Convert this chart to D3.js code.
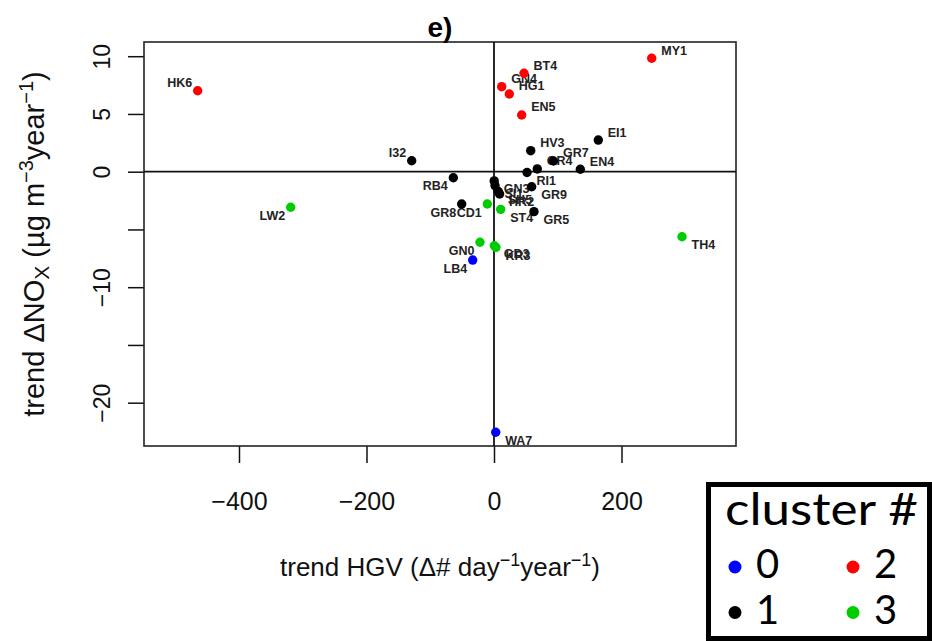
<!DOCTYPE html>
<html>
<head>
<meta charset="utf-8">
<script src="https://cdn.jsdelivr.net/npm/d3@7"></script>
<style>
  html, body { margin: 0; padding: 0; background: #fff; }
  svg { display: block; font-family: "Liberation Sans", Arial, sans-serif; }
</style>
</head>
<body>
<svg width="932" height="641"></svg>
<script>
// station codes, trend in HGV counts and trend in NOx, k-means cluster
const stations = ["HK6","MY1","BT4","GN4","HG1","EN5",
  "I32","EI1","HV3","GR7","GR4","EN4","RI1","RB4","GN3","SI1","SH5","HR2","GR9","GR5","GR8",
  "LW2","TH4","ST4","CD1","GN0","GD3","KR3",
  "LB4","WA7"];
const hgvTrend = [-464.8, 247.4, 47.1, 12.1, 24.0, 43.4,
  -129.1, 163.6, 57.6, 93.3, 67.9, 135.4, 51.8, -63.8, 0.3, 1.6, 6.7, 8.8, 59.1, 62.7, -50.7,
  -318.9, 294.9, 10.5, -10.5, -22.0, 0.5, 3.0,
  -33.4, 2.7];
const noxTrend = [7.01, 9.82, 8.52, 7.36, 6.73, 4.91,
  0.95, 2.74, 1.82, 0.93, 0.24, 0.21, -0.07, -0.52, -0.80, -1.20, -1.72, -1.93, -1.30, -3.46, -2.80,
  -3.08, -5.63, -3.26, -2.80, -6.11, -6.41, -6.55,
  -7.65, -22.56];
const clusters = [2, 2, 2, 2, 2, 2,
  1, 1, 1, 1, 1, 1, 1, 1, 1, 1, 1, 1, 1, 1, 1,
  3, 3, 3, 3, 3, 3, 3,
  0, 0];
const clusterIds = [0, 1, 2, 3];
const clusterColors = ["#0000FF", "#000000", "#FF0000", "#00CD00"];
const xTicks = [-400, -200, 0, 200];
const yTicks = [-20, -15, -10, -5, 0, 5, 10];
const yTickLabels = [-20, -10, 0, 5, 10];

const data = stations.map((s, i) => ({ name: s, x: hgvTrend[i], y: noxTrend[i], c: clusters[i] }));

const svg = d3.select("svg");
const box = { left: 144, right: 736, top: 42, bottom: 446 };

const x = d3.scaleLinear().domain([-549, 379.6]).range([box.left, box.right]);
const y = d3.scaleLinear().domain([-23.75, 11.23]).range([box.bottom, box.top]);
const color = d3.scaleOrdinal().domain(clusterIds).range(clusterColors);

// axes
const xAxis = svg.append("g")
  .attr("transform", `translate(0, ${box.bottom})`)
  .call(d3.axisBottom(x).tickValues(xTicks).tickSize(17).tickSizeOuter(0));
xAxis.select(".domain").remove();
xAxis.selectAll("line").attr("stroke", "#111").attr("stroke-width", 1.5);
xAxis.selectAll("text").attr("y", 64).attr("dy", 0)
  .style("font-size", "25px").attr("fill", "#111");

const yAxis = svg.append("g")
  .attr("transform", `translate(${box.left}, 0)`)
  .call(d3.axisLeft(y).tickValues(yTicks).tickSize(16).tickSizeOuter(0)
    .tickFormat(d => yTickLabels.includes(d) ? d3.format("d")(d) : ""));
yAxis.select(".domain").remove();
yAxis.selectAll("line").attr("stroke", "#111").attr("stroke-width", 1.5);
yAxis.selectAll("text")
  .attr("x", null).attr("dy", 0)
  .attr("transform", "translate(-34, 0) rotate(-90)")
  .attr("text-anchor", "middle")
  .style("font-size", "23px").attr("fill", "#111");

// frame + zero lines
svg.append("rect")
  .attr("x", box.left).attr("y", box.top)
  .attr("width", box.right - box.left).attr("height", box.bottom - box.top)
  .attr("fill", "none").attr("stroke", "#222").attr("stroke-width", 1.6);
svg.append("line")
  .attr("x1", box.left).attr("x2", box.right).attr("y1", y(0)).attr("y2", y(0))
  .attr("stroke", "#111").attr("stroke-width", 1.8);
svg.append("line")
  .attr("x1", x(0)).attr("x2", x(0)).attr("y1", box.top).attr("y2", box.bottom)
  .attr("stroke", "#111").attr("stroke-width", 1.8);

// title
svg.append("text")
  .attr("x", (box.left + box.right) / 2).attr("y", 37)
  .attr("text-anchor", "middle")
  .style("font-size", "28px").style("font-weight", "bold")
  .text("e)");

// axis titles
const xt = svg.append("text")
  .attr("x", 440).attr("y", 576)
  .attr("text-anchor", "middle")
  .style("font-size", "26px").attr("fill", "#111");
xt.append("tspan").text("trend HGV (Δ# day");
xt.append("tspan").attr("dy", -10).style("font-size", "18px").text("−1");
xt.append("tspan").attr("dy", 10).text("year");
xt.append("tspan").attr("dy", -10).style("font-size", "18px").text("−1");
xt.append("tspan").attr("dy", 10).text(")");

const yt = svg.append("text")
  .attr("transform", "translate(44, 244) rotate(-90)")
  .attr("text-anchor", "middle")
  .style("font-size", "29px").attr("fill", "#111");
yt.append("tspan").text("trend ΔNO");
yt.append("tspan").attr("dy", 5).style("font-size", "21px").text("X");
yt.append("tspan").attr("dy", -5).text(" (µg m");
yt.append("tspan").attr("dy", -11).style("font-size", "20px").text("−3");
yt.append("tspan").attr("dy", 11).text("year");
yt.append("tspan").attr("dy", -11).style("font-size", "20px").text("−1");
yt.append("tspan").attr("dy", 11).text(")");

// station labels, placed by quadrant
const plot = svg.append("g");
plot.selectAll(".lab")
  .data(data)
  .enter()
  .append("text")
  .classed("lab", true)
  .attr("x", d => x(d.x) + (d.x >= 0 ? 9.5 : -5.5))
  .attr("y", d => y(d.y) + (d.y >= 0 ? -3.5 : 12.5))
  .attr("text-anchor", d => d.x >= 0 ? "start" : "end")
  .style("font-size", "12.5px").style("font-weight", "bold")
  .attr("fill", "#222")
  .text(d => d.name);

plot.selectAll(".pt")
  .data(data)
  .enter()
  .append("circle")
  .classed("pt", true)
  .attr("cx", d => x(d.x))
  .attr("cy", d => y(d.y))
  .attr("r", 4.7)
  .attr("fill", d => color(d.c));

// legend
const lg = svg.append("g");
lg.append("rect")
  .attr("x", 708.5).attr("y", 484.5).attr("width", 221).attr("height", 154)
  .attr("fill", "#fff").attr("stroke", "#000").attr("stroke-width", 5);
lg.append("text")
  .attr("x", 725).attr("y", 525)
  .attr("textLength", 193).attr("lengthAdjust", "spacingAndGlyphs")
  .style("font-family", "Lato, 'Open Sans', sans-serif").style("font-size", "44px")
  .text("cluster #");
const legPos = [[735, 567], [735, 612.5], [853, 567], [853, 612.5]];
const li = lg.selectAll(".li").data(clusterIds).enter().append("g").classed("li", true)
  .attr("transform", (d, i) => `translate(${legPos[i][0]}, ${legPos[i][1]})`);
li.append("circle").attr("r", 6.5).attr("fill", d => color(d));
li.append("text")
  .attr("x", 21).attr("y", 11)
  .style("font-family", "Lato, 'Open Sans', sans-serif").style("font-size", "40px")
  .text(d => d);
</script>
</body>
</html>
